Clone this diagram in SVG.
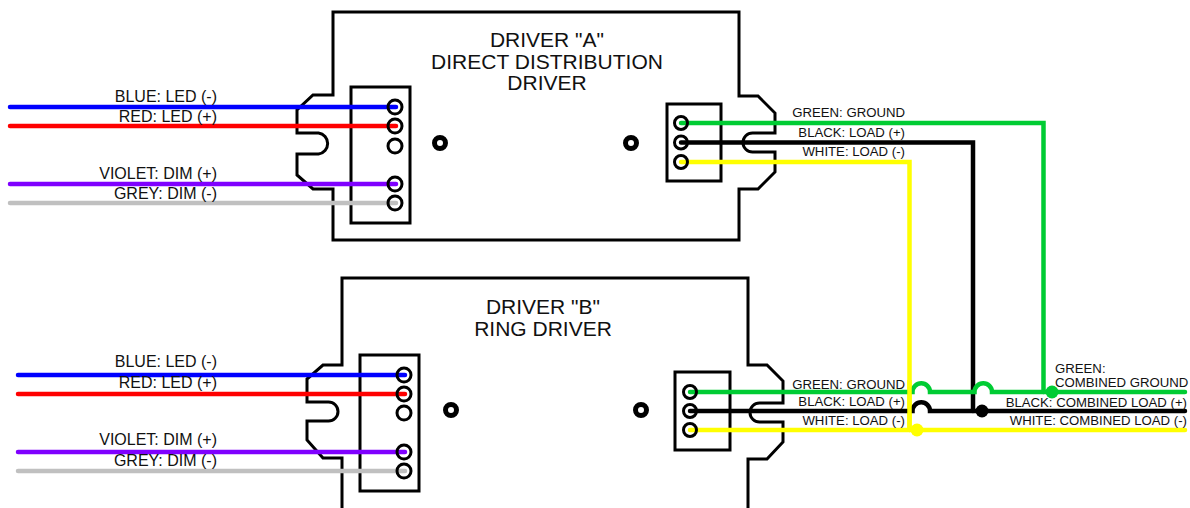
<svg xmlns="http://www.w3.org/2000/svg" width="1190" height="508" viewBox="0 0 1190 508">
<style>
.body{fill:#fff;stroke:#000;stroke-width:3;stroke-linejoin:miter}
.box{fill:#fff;stroke:#000;stroke-width:3}
.term{fill:none;stroke:#000;stroke-width:3}
.hole{fill:#fff;stroke:#000;stroke-width:5}
.w{fill:none;stroke-width:4.5;stroke-linecap:round;stroke-linejoin:miter}
.t{font-family:"Liberation Sans",Arial,sans-serif;fill:#111}
.title{font-size:21px;text-anchor:middle}
.ll{font-size:16px;text-anchor:end}
.rl{font-size:13.2px;text-anchor:end}
.cl{font-size:13.2px}
</style>
<rect width="1190" height="508" fill="#fff"/>
<g id="driverA">
<path class="body" d="M333,12 H739 V96 H758 L775,113 V133 H752.5 A9.5,9.5 0 0 0 752.5,152 H775 V172 L758,189 H739 V240 H333 V189 H313 L297,175 V154 H318.5 A10.6,10.6 0 0 0 318.5,133 H297 V110 L313,95 H333 Z"/>
<rect class="box" x="351" y="87" width="59" height="136"/>
<rect class="box" x="667" y="104" width="54" height="77"/>
<circle class="hole" cx="440" cy="143" r="5.5"/>
<circle class="hole" cx="631" cy="143" r="5.5"/>
<text class="t title" x="547" y="47">DRIVER "A"</text>
<text class="t title" x="547" y="69">DIRECT DISTRIBUTION</text>
<text class="t title" x="547" y="90">DRIVER</text>
</g>
<g id="driverB">
<path class="body" d="M342,512 V458 H323 L307,440 V421 H328.5 A9.5,9.5 0 0 0 328.5,402 H307 V379 L323,365 H342 V278 H748 V365 H767 L783,381 V403 H759.5 A9.5,9.5 0 0 0 759.5,422 H783 V442 L767,459 H748 V512"/>
<rect class="box" x="360" y="355" width="59" height="136"/>
<rect class="box" x="675" y="372" width="55" height="78"/>
<circle class="hole" cx="451" cy="410" r="5.5"/>
<circle class="hole" cx="641" cy="410" r="5.5"/>
<text class="t title" x="543" y="314">DRIVER "B"</text>
<text class="t title" x="543" y="336">RING DRIVER</text>
</g>
<g id="connectors">
<line class="w" x1="10" y1="107" x2="396" y2="107" stroke="#0000ff"/>
<line class="w" x1="10" y1="126" x2="396" y2="126" stroke="#ff0000"/>
<line class="w" x1="10" y1="184" x2="396" y2="184" stroke="#7f00ff"/>
<line class="w" x1="10" y1="203" x2="396" y2="203" stroke="#c0c0c0"/>
<line class="w" x1="18" y1="375" x2="405" y2="375" stroke="#0000ff"/>
<line class="w" x1="18" y1="394" x2="405" y2="394" stroke="#ff0000"/>
<line class="w" x1="18" y1="452" x2="405" y2="452" stroke="#7f00ff"/>
<line class="w" x1="18" y1="471" x2="405" y2="471" stroke="#c0c0c0"/>
<path class="w" d="M681,123 H1043.5 V392" stroke="#00cc33" stroke-linecap="butt"/>
<path class="w" d="M681,142.5 H973 V411" stroke="#000" stroke-linecap="butt"/>
<path class="w" d="M681,162 H909.5 V430" stroke="#ffff00" stroke-linecap="butt"/>
<path class="w" d="M690,392 H912.5 A8.7,8.7 0 0 1 930,392 H974.5 A8.7,8.7 0 0 1 992,392 H1185" stroke="#00cc33"/>
<path class="w" d="M690,411 H912.5 A8.7,8.7 0 0 1 930,411 H1185" stroke="#000"/>
<path class="w" d="M690,430 H1185" stroke="#ffff00"/>
<line x1="909.5" y1="380" x2="909.5" y2="430" stroke="#ffff00" stroke-width="4.5"/>
<circle cx="917" cy="430" r="6.5" fill="#ffff00"/>
<circle cx="982" cy="411" r="6.5" fill="#000"/>
<circle cx="1052" cy="392" r="6.5" fill="#00cc33"/>
<g class="term">
<circle cx="395" cy="107" r="7"/><circle cx="395" cy="126" r="7"/><circle cx="395" cy="146" r="7"/><circle cx="395" cy="184" r="7"/><circle cx="395" cy="203" r="7"/>
<circle cx="404" cy="375" r="7"/><circle cx="404" cy="394" r="7"/><circle cx="404" cy="413" r="7"/><circle cx="404" cy="452" r="7"/><circle cx="404" cy="471" r="7"/>
<circle cx="681" cy="123" r="6.5"/><circle cx="681" cy="142.5" r="6.5"/><circle cx="681" cy="162" r="6.5"/>
<circle cx="690" cy="392" r="6.5"/><circle cx="690" cy="411" r="6.5"/><circle cx="690" cy="430" r="6.5"/>
</g>
<text class="t ll" x="217" y="102">BLUE: LED (-)</text>
<text class="t ll" x="217" y="122">RED: LED (+)</text>
<text class="t ll" x="217" y="179">VIOLET: DIM (+)</text>
<text class="t ll" x="217" y="199">GREY: DIM (-)</text>
<text class="t ll" x="217" y="367">BLUE: LED (-)</text>
<text class="t ll" x="217" y="388">RED: LED (+)</text>
<text class="t ll" x="217" y="445">VIOLET: DIM (+)</text>
<text class="t ll" x="217" y="466">GREY: DIM (-)</text>
<text class="t rl" x="905" y="117">GREEN: GROUND</text>
<text class="t rl" x="905" y="137">BLACK: LOAD (+)</text>
<text class="t rl" x="905" y="156">WHITE: LOAD (-)</text>
<text class="t rl" x="905" y="389">GREEN: GROUND</text>
<text class="t rl" x="905" y="406">BLACK: LOAD (+)</text>
<text class="t rl" x="905" y="425">WHITE: LOAD (-)</text>
<text class="t cl" x="1055" y="373">GREEN:</text>
<text class="t cl" x="1055" y="387">COMBINED GROUND</text>
<text class="t rl" x="1187" y="407">BLACK: COMBINED LOAD (+)</text>
<text class="t rl" x="1187" y="425">WHITE: COMBINED LOAD (-)</text>
</g>
</svg>
